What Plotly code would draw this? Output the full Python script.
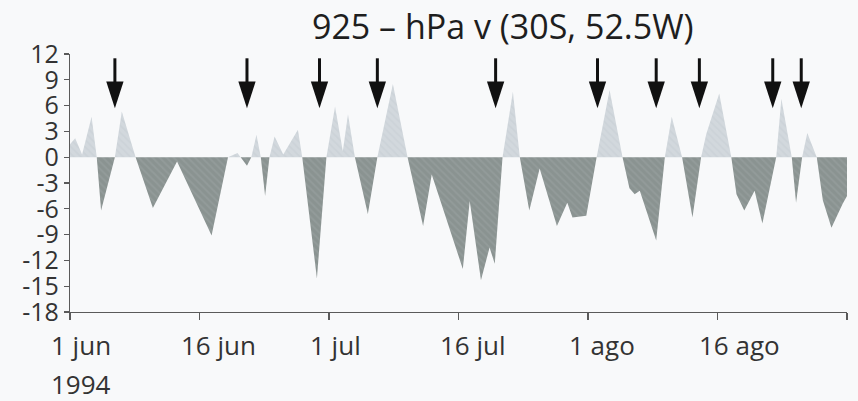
import plotly.graph_objects as go

# ---------------- data ----------------
title_text = "925 – hPa v (30S, 52.5W)"

# days since 1 jun 1994
days = [0.0, 0.6, 1.4, 2.5, 3.1, 3.6, 5.2, 6.0, 7.6, 9.6,
        12.4, 16.4, 18.3, 19.4, 20.5, 21.0, 21.6, 22.1, 22.6, 23.1,
        23.7, 24.7, 26.4, 26.9, 28.6, 29.7, 30.7, 31.6, 32.2, 33.0,
        34.5, 35.6, 37.4, 39.1, 40.9, 41.9, 45.5, 46.3, 47.6, 48.6,
        49.2, 50.1, 51.3, 52.1, 53.2, 54.4, 56.4, 57.6, 58.2, 59.8,
        61.0, 62.5, 64.0, 64.8, 65.4, 66.0, 67.9, 68.9, 69.7, 70.9,
        72.1, 73.1, 73.7, 75.2, 76.6, 77.2, 78.1, 79.3, 80.2, 81.8,
        82.4, 83.6, 84.1, 84.8, 85.4, 86.5, 87.2, 88.2, 89.5, 90.0]

# meridional wind v (m/s)
v_wind = [1.5, 2.2, 0.3, 4.7, 0.0, -6.2, 0.0, 5.3, 0.0, -5.9,
          -0.5, -9.1, 0.0, 0.5, -1.0, 0.0, 2.6, 0.0, -4.5, 0.0,
          2.4, 0.3, 3.2, 0.0, -14.1, 0.0, 5.9, 0.7, 5.0, 0.0,
          -6.6, 0.0, 8.5, 0.0, -8.0, -2.0, -13.0, -5.1, -14.3, -10.5,
          -12.4, 0.0, 7.6, 0.0, -6.2, -1.3, -8.0, -5.3, -7.0, -6.8,
          0.0, 7.8, 0.0, -3.6, -4.3, -3.9, -9.7, 0.0, 4.7, 0.0,
          -7.0, 0.0, 2.7, 7.4, 0.0, -4.3, -6.2, -3.9, -7.7, 0.0,
          6.8, 0.0, -5.3, 0.0, 2.8, 0.0, -5.0, -8.2, -5.4, -4.5]

# arrows (days since 1 jun 1994)
arrow_days = [5.2, 20.5, 28.9, 35.6, 49.3, 61.1, 67.9, 72.9, 81.4, 84.7]

x_tick_vals = [0, 15, 30, 45, 60, 75]
x_tick_labels = ["1 jun", "16 jun", "1 jul", "16 jul", "1 ago", "16 ago"]
year_label = "1994"

y_tick_vals = [12, 9, 6, 3, 0, -3, -6, -9, -12, -15, -18]
y_tick_labels = ["12", "9", "6", "3", "0", "-3", "-6", "-9", "-12", "-15", "-18"]

# ---------------- styling ----------------
FONT = "Open Sans"
BG = "#f8f9fa"
AXIS = "#5a5a5a"
POS_COL = "#d2d8dd"
NEG_COL = "#8a9391"
ARROW_TOP = 11.5
ARROW_TIP = 5.7

# split into positive / negative parts (insert zero crossings)
xs, ys = [], []
for i in range(len(days)):
    if i > 0:
        a, b = v_wind[i - 1], v_wind[i]
        if a * b < 0:
            t = a / (a - b)
            xs.append(days[i - 1] + t * (days[i] - days[i - 1]))
            ys.append(0.0)
    xs.append(days[i])
    ys.append(v_wind[i])
pos = [max(y, 0.0) for y in ys]
neg = [min(y, 0.0) for y in ys]

fig = go.Figure()
fig.add_trace(go.Scatter(
    x=xs, y=pos, mode="lines", fill="tozeroy",
    line=dict(width=0, color=POS_COL), fillcolor=POS_COL,
    fillpattern=dict(shape="\\", bgcolor=POS_COL, fgcolor="#c6cdd3",
                     size=5, solidity=0.35),
    hoverinfo="skip", showlegend=False))
fig.add_trace(go.Scatter(
    x=xs, y=neg, mode="lines", fill="tozeroy",
    line=dict(width=0, color=NEG_COL), fillcolor=NEG_COL,
    fillpattern=dict(shape="\\", bgcolor=NEG_COL, fgcolor="#9ba4a3",
                     size=5, solidity=0.35),
    hoverinfo="skip", showlegend=False))

# arrows: shafts + heads
sx, sy = [], []
for d in arrow_days:
    sx += [d, d, None]
    sy += [ARROW_TOP, ARROW_TIP + 2.0, None]
fig.add_trace(go.Scatter(x=sx, y=sy, mode="lines",
                         line=dict(color="#111111", width=3),
                         hoverinfo="skip", showlegend=False))
fig.add_trace(go.Scatter(x=arrow_days, y=[ARROW_TIP] * len(arrow_days),
                         mode="markers",
                         marker=dict(symbol="arrow", angle=180, size=28,
                                     color="#111111", line=dict(width=0)),
                         hoverinfo="skip", showlegend=False))

# x tick labels (left-aligned slightly before each tick, as in the original)
annotations = []
for v, lab in zip(x_tick_vals, x_tick_labels):
    annotations.append(dict(x=v, xref="x", y=0, yref="paper",
                            text=lab, showarrow=False,
                            xanchor="left", yanchor="top",
                            xshift=-21, yshift=-13,
                            font=dict(family=FONT, size=26, color="#333333")))
annotations.append(dict(x=x_tick_vals[0], xref="x", y=0, yref="paper",
                        text=year_label, showarrow=False,
                        xanchor="left", yanchor="top",
                        xshift=-21, yshift=-52,
                        font=dict(family=FONT, size=26, color="#333333")))

fig.update_layout(
    width=858, height=401,
    margin=dict(l=70, r=11, t=54, b=89, autoexpand=False),
    paper_bgcolor=BG, plot_bgcolor=BG,
    title=dict(text=title_text, x=0.586, xref="container", xanchor="center",
               y=0.962, yref="container", yanchor="top", automargin=False,
               font=dict(family=FONT, size=34, color="#1e1e1e")),
    annotations=annotations,
    xaxis=dict(range=[0, 90], tickvals=x_tick_vals + [90],
               showticklabels=False, ticks="outside", ticklen=7,
               tickwidth=1.2, tickcolor=AXIS, showline=True,
               linecolor=AXIS, linewidth=1.2, showgrid=False,
               zeroline=False, automargin=False),
    yaxis=dict(range=[-18, 12], tickvals=y_tick_vals, ticktext=y_tick_labels,
               ticks="outside", ticklen=5, tickwidth=1.2, tickcolor=AXIS,
               showline=True, linecolor=AXIS, linewidth=1.2,
               showgrid=False, zeroline=False, automargin=False,
               tickfont=dict(family=FONT, size=25, color="#333333")),
)

fig.write_html("out.html",
               config={"displayModeBar": False, "staticPlot": True},
               post_script="document.body.style.margin='0';"
                           "document.body.style.background='" + BG + "';")
